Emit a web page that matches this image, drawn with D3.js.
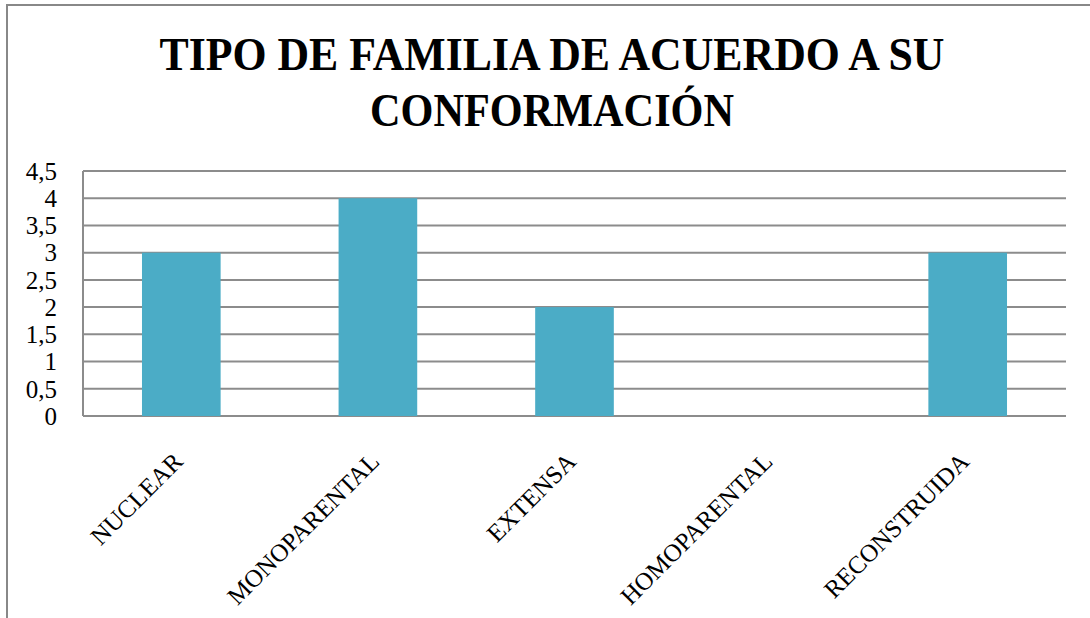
<!DOCTYPE html>
<html><head><meta charset="utf-8">
<script src="https://cdn.jsdelivr.net/npm/d3@7"></script>
<style>body{margin:0;background:#fff}svg{display:block}</style>
</head><body>
<svg id="c" width="1090" height="618"></svg>
<script>
const categories = ["NUCLEAR","MONOPARENTAL","EXTENSA","HOMOPARENTAL","RECONSTRUIDA"];
const values = [3,4,2,0,3];
const yTicks = [0,0.5,1,1.5,2,2.5,3,3.5,4,4.5];
const titleLines = ["TIPO DE FAMILIA DE ACUERDO A SU","CONFORMACIÓN"];

const svg = d3.select("#c");
svg.append("rect").attr("x",7).attr("y",5).attr("width",1100).attr("height",640)
  .attr("fill","#fff").attr("stroke","#888").attr("stroke-width",2);

const m = {l:83,t:171,r:1066,b:416};
const x = d3.scaleBand().domain(categories).range([m.l,m.r]).paddingInner(0.6).paddingOuter(0.3);
const y = d3.scaleLinear().domain([0,4.5]).range([m.b,m.t]);

// grid
svg.append("g").selectAll("line").data(yTicks).join("line")
  .attr("x1",m.l).attr("x2",m.r).attr("y1",d=>y(d)).attr("y2",d=>y(d))
  .attr("stroke","#8c8c8c").attr("stroke-width",2);
svg.append("line").attr("x1",m.l).attr("x2",m.l).attr("y1",m.t).attr("y2",m.b)
  .attr("stroke","#8c8c8c").attr("stroke-width",2);

// bars
svg.append("g").selectAll("rect").data(values).join("rect")
  .attr("x",(d,i)=>x(categories[i])).attr("width",x.bandwidth())
  .attr("y",d=>y(d)).attr("height",d=>y(0)-y(d)).attr("fill","#4BACC6");

// y axis labels
const yAxis = d3.axisLeft(y).tickValues(yTicks).tickSize(0).tickPadding(0)
  .tickFormat(d=>String(d).replace(".",","));
const ga = svg.append("g").attr("transform",`translate(57,0)`).call(yAxis);
ga.select(".domain").remove();
ga.selectAll("text").attr("font-family","'Liberation Serif', serif").attr("font-size",25).attr("fill","#000").attr("dy","0.33em");

// x labels
const xAxis = d3.axisBottom(x).tickSize(0).tickPadding(0);
const gx = svg.append("g").attr("transform",`translate(0,${m.b})`).call(xAxis);
gx.select(".domain").remove();
gx.selectAll("text").attr("font-family","'Liberation Serif', serif").attr("font-size",25).attr("fill","#000")
  .attr("text-anchor","end").attr("y",0).attr("dy",0)
  .attr("transform","translate(3,47) rotate(-45)");

// title
const tl = [ {w:785,y:70},{w:364,y:126} ];
svg.append("g").selectAll("text").data(titleLines).join("text")
  .attr("x",552).attr("y",(d,i)=>tl[i].y).attr("text-anchor","middle")
  .attr("font-family","'Liberation Serif', serif").attr("font-weight","bold").attr("font-size",47)
  .attr("textLength",(d,i)=>tl[i].w).attr("lengthAdjust","spacingAndGlyphs")
  .text(d=>d);
</script>
</body></html>
